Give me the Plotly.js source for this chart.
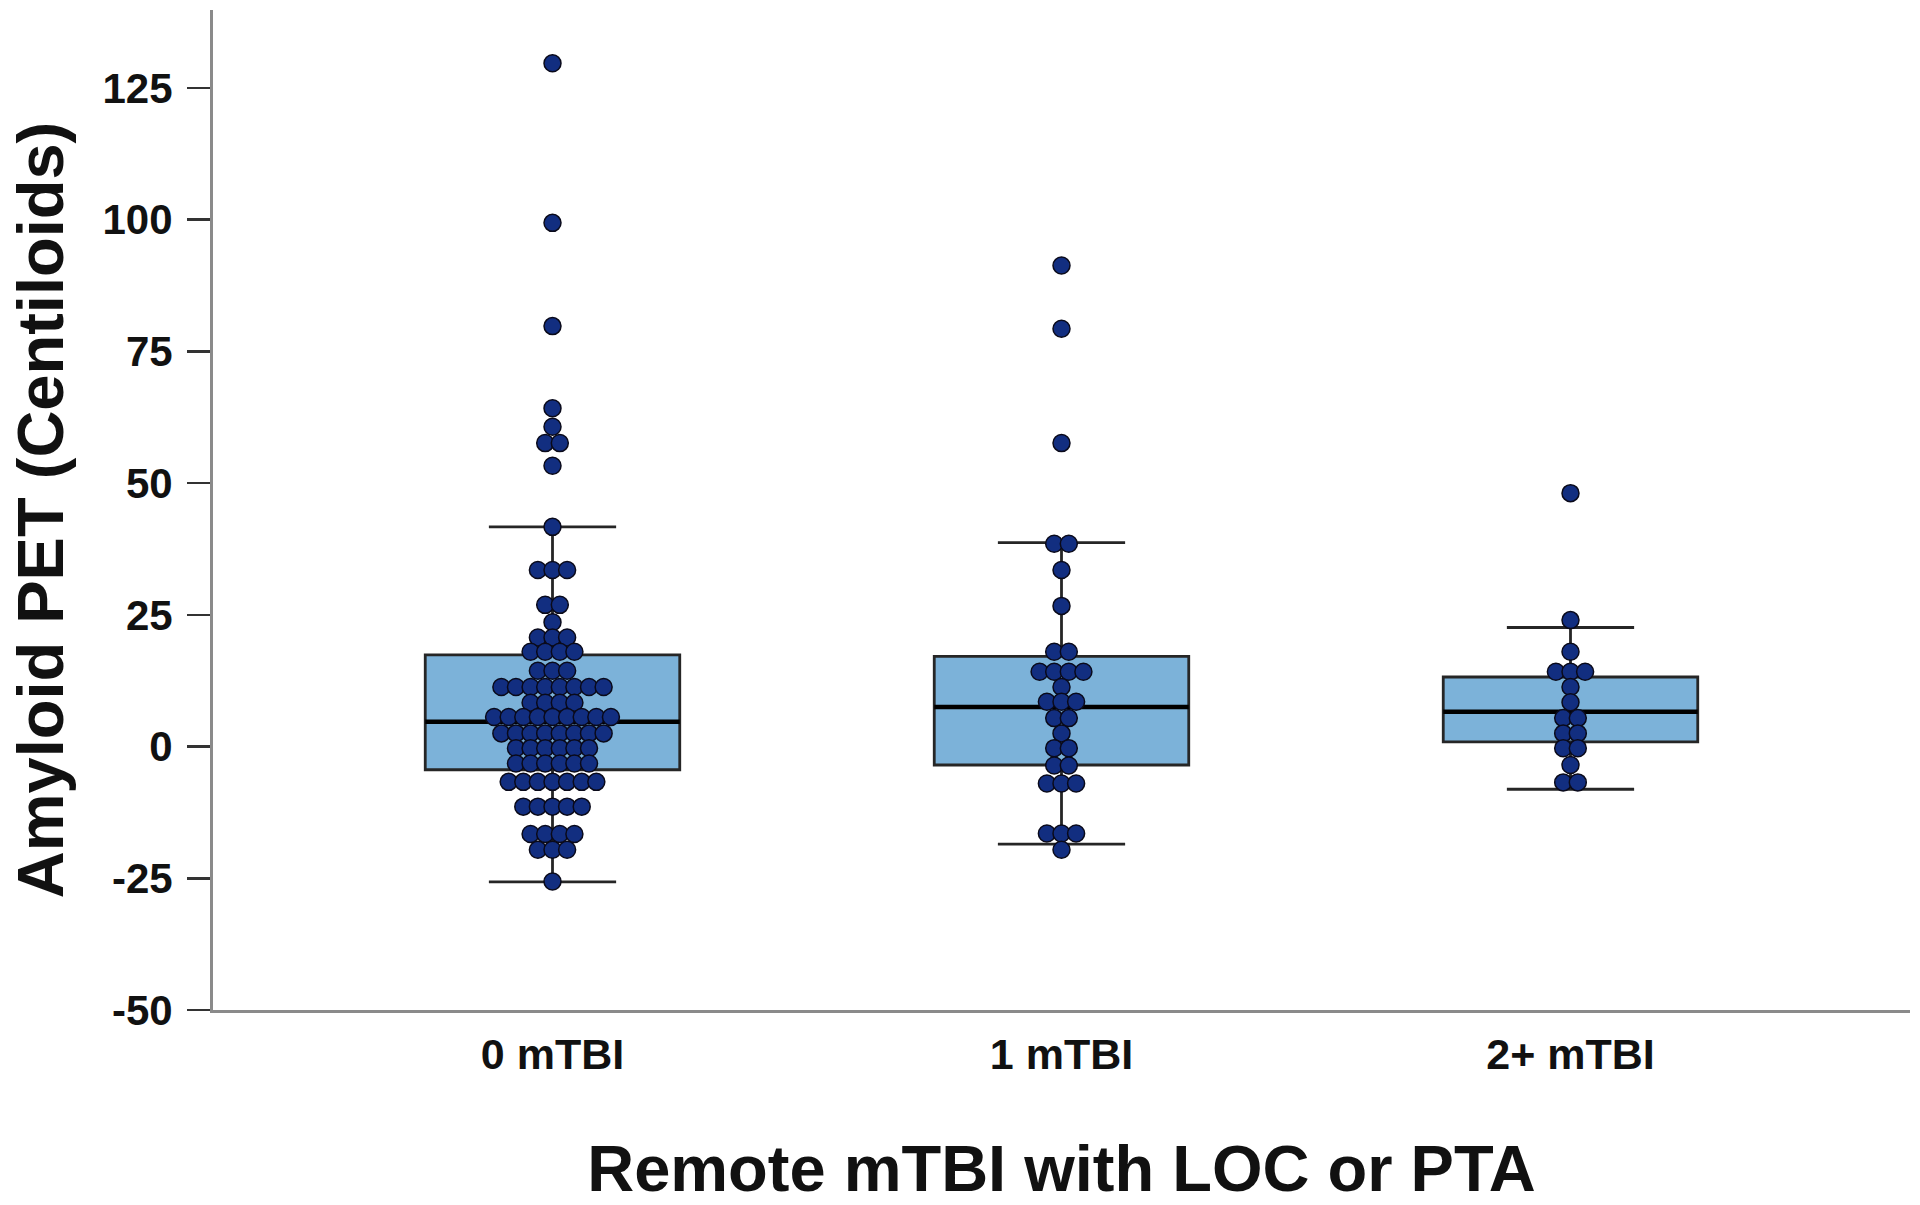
<!DOCTYPE html>
<html>
<head>
<meta charset="utf-8">
<script src="https://cdn.plot.ly/plotly-3.0.1.min.js"></script>
<style>
  html, body { margin: 0; padding: 0; background: #ffffff; }
  #chart { width: 1920px; height: 1205px; }
</style>
</head>
<body>
<div id="chart"></div>
<script>
// ---- Data ----
const categories = ['0 mTBI', '1 mTBI', '2+ mTBI'];
const positions = [0, 1, 2];

// Individual observations (dot plot rows; equal values share a row)
const group0mTBI = [
  129.7, 99.4, 79.8, 64.2, 60.7, 57.6, 57.6, 53.3,
  41.7,
  33.5, 33.5, 33.5,
  26.9, 26.9,
  23.6,
  20.7, 20.7, 20.7,
  18.0, 18.0, 18.0, 18.0,
  14.4, 14.4, 14.4,
  11.3, 11.3, 11.3, 11.3, 11.3, 11.3, 11.3, 11.3,
  8.3, 8.3, 8.3, 8.3,
  5.6, 5.6, 5.6, 5.6, 5.6, 5.6, 5.6, 5.6, 5.6,
  2.5, 2.5, 2.5, 2.5, 2.5, 2.5, 2.5, 2.5,
  -0.3, -0.3, -0.3, -0.3, -0.3, -0.3,
  -3.2, -3.2, -3.2, -3.2, -3.2, -3.2,
  -6.7, -6.7, -6.7, -6.7, -6.7, -6.7, -6.7,
  -11.4, -11.4, -11.4, -11.4, -11.4,
  -16.6, -16.6, -16.6, -16.6,
  -19.6, -19.6, -19.6,
  -25.6
];
const group1mTBI = [
  91.3, 79.3, 57.6,
  38.5, 38.5,
  33.5,
  26.7,
  18.0, 18.0,
  14.2, 14.2, 14.2, 14.2,
  11.3,
  8.5, 8.5, 8.5,
  5.4, 5.4,
  2.5,
  -0.3, -0.3,
  -3.6, -3.6,
  -7.0, -7.0, -7.0,
  -16.5, -16.5, -16.5,
  -19.6
];
const group2mTBI = [
  48.1,
  24.0,
  18.0,
  14.2, 14.2, 14.2,
  11.3,
  8.4,
  5.4, 5.4,
  2.5, 2.5,
  -0.3, -0.3,
  -3.5,
  -6.8, -6.8
];

// Box summaries (as drawn)
const q1Values      = [-4.4, -3.5, 0.9];
const medianValues  = [4.7, 7.5, 6.6];
const q3Values      = [17.4, 17.1, 13.2];
const lowerWhiskers = [-25.7, -18.5, -8.1];
const upperWhiskers = [41.7, 38.7, 22.6];

const yTickValues = [-50, -25, 0, 25, 50, 75, 100, 125];
const yTickLabels = ['-50', '-25', '0', '25', '50', '75', '100', '125'];

// ---- Styling ----
const FONT = 'Liberation Sans, Arial, Helvetica, sans-serif';
const boxFill = 'rgb(124,178,217)';
const dotFill = 'rgb(18,46,128)';
const dotSpacing = 0.0287; // horizontal spacing between stacked dots (x units)

function swarm(values, center) {
  const xs = [], ys = [];
  let i = 0;
  while (i < values.length) {
    let j = i;
    while (j < values.length && values[j] === values[i]) j++;
    const n = j - i;
    for (let k = 0; k < n; k++) {
      xs.push(center + (k - (n - 1) / 2) * dotSpacing);
      ys.push(values[i]);
    }
    i = j;
  }
  return { xs, ys };
}

const groups = [group0mTBI, group1mTBI, group2mTBI];
const dotX = [], dotY = [];
groups.forEach((g, gi) => {
  const s = swarm(g, positions[gi]);
  dotX.push(...s.xs);
  dotY.push(...s.ys);
});

const boxTrace = {
  type: 'box',
  x: positions,
  q1: q1Values,
  median: medianValues,
  q3: q3Values,
  lowerfence: lowerWhiskers,
  upperfence: upperWhiskers,
  width: 0.5,
  whiskerwidth: 0.5,
  fillcolor: boxFill,
  line: { color: '#262626', width: 2.8 },
  boxpoints: false,
  hoverinfo: 'skip',
  showlegend: false
};

// Thick black median line drawn as a zero-height box
const medianTrace = {
  type: 'box',
  x: positions,
  q1: medianValues,
  median: medianValues,
  q3: medianValues,
  lowerfence: medianValues,
  upperfence: medianValues,
  width: 0.5,
  whiskerwidth: 0,
  fillcolor: 'rgba(0,0,0,0)',
  line: { color: '#000000', width: 4.5 },
  boxpoints: false,
  hoverinfo: 'skip',
  showlegend: false
};

const dotTrace = {
  type: 'scatter',
  mode: 'markers',
  x: dotX,
  y: dotY,
  marker: { size: 17, color: dotFill, line: { color: '#0a0a1a', width: 1.5 } },
  hoverinfo: 'y',
  showlegend: false
};

const layout = {
  width: 1920,
  height: 1205,
  margin: { l: 213, r: 10, t: 10, b: 195 },
  paper_bgcolor: '#ffffff',
  plot_bgcolor: '#ffffff',
  boxmode: 'overlay',
  showlegend: false,
  font: { family: FONT, color: '#111111' },
  xaxis: {
    range: [-0.667, 2.667],
    tickmode: 'array',
    tickvals: positions,
    ticktext: categories,
    ticks: '',
    showgrid: false,
    zeroline: false,
    showline: true,
    linecolor: '#8a8a8a',
    linewidth: 3,
    ticklabelstandoff: 4,
    tickfont: { family: FONT, size: 43, weight: 'bold', color: '#111111' },
    title: {
      text: 'Remote mTBI with LOC or PTA',
      font: { family: FONT, size: 65, weight: 'bold', color: '#111111' },
      standoff: 93
    }
  },
  yaxis: {
    range: [-50, 139.8],
    tickmode: 'array',
    tickvals: yTickValues,
    ticktext: yTickLabels,
    ticks: 'outside',
    ticklen: 23,
    tickwidth: 2.5,
    tickcolor: '#333333',
    showgrid: false,
    zeroline: false,
    showline: true,
    linecolor: '#8a8a8a',
    linewidth: 3,
    ticklabelstandoff: 6,
    tickfont: { family: FONT, size: 42, weight: 'bold', color: '#111111' },
    title: {
      text: 'Amyloid PET (Centiloids)',
      font: { family: FONT, size: 65, weight: 'bold', color: '#111111' },
      standoff: 18
    }
  }
};

Plotly.newPlot('chart', [boxTrace, medianTrace, dotTrace], layout, { displayModeBar: false, staticPlot: true });
</script>
</body>
</html>
